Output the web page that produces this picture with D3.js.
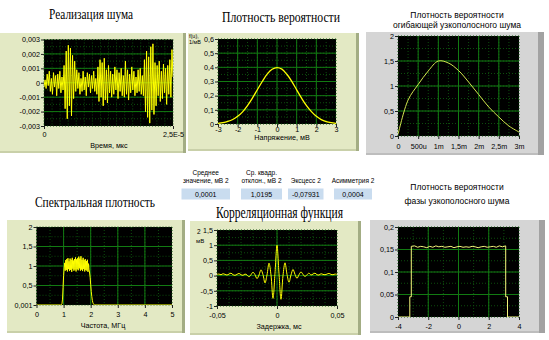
<!DOCTYPE html>
<html><head><meta charset="utf-8">
<script src="https://cdn.jsdelivr.net/npm/d3@7"></script>
<style>
body{margin:0;background:#fff;}
svg{display:block;}
text{font-family:"Liberation Sans",Arial,sans-serif;fill:#000;}
.serif{font-family:"Liberation Serif","Times New Roman",serif;}
</style></head><body>
<svg id="c" width="549" height="340"></svg>
<script>
// ---- Noise realisation (values in units of 1e-3) ----
const noiseMilli = [
 -0.3,0.2,-0.4,0.6,-0.2,0.8,-0.6,0.3,-0.8,0.7,-0.3,0.5,-0.9,0.6,-0.4,0.8,-0.7,0.4,-0.5,
 1.2,-1.8,2.2,-2.5,2.6,-1.6,2.4,-2.3,1.9,-1.1,1.5,
 -0.6,0.9,-0.4,0.7,-0.8,0.3,-0.6,0.8,-0.5,0.4,-0.9,0.7,-0.3,0.6,-0.7,0.5,-0.4,0.8,-0.6,0.3,-0.8,
 1.1,-1.3,1.6,-1.0,1.4,-1.6,1.7,-1.2,0.9,-1.4,1.2,-0.7,
 0.8,-1.0,0.6,-0.8,1.1,-0.5,0.9,-1.1,0.7,-0.6,1.0,-0.9,0.5,-1.0,1.5,-0.8,0.9,-1.2,0.6,-0.7,1.1,-0.5,0.8,-0.9,0.4,-0.7,0.9,-0.6,1.0,-0.8,0.5,-0.9,
 1.6,-2.0,2.2,-2.4,1.8,-2.8,2.5,-1.9,2.7,-2.2,1.4,-1.6,
 1.2,-0.9,1.5,-1.3,0.8,-1.1,1.3,-0.7,1.0,-1.5,1.2,-0.8,1.6,-1.0,2.3,0.4
];
const noiseDuration = 2.5e-5;
const noiseYTicks = [-0.003,-0.002,-0.001,0,0.001,0.002,0.003];
const noiseYLabels = ["-0,003","-0,002","-0,001","0","0,001","0,002","0,003"];
const noiseXTicks = [0, 2.5e-5];
const noiseXLabels = ["0","2,5E-5"];

// ---- Probability density of the noise ----
const pdfVolts = [-3,-2.75,-2.5,-2.25,-2,-1.75,-1.5,-1.25,-1,-0.75,-0.5,-0.25,0,0.25,0.5,0.75,1,1.25,1.5,1.75,2,2.25,2.5,2.75,3];
const pdfValues = [0.004,0.009,0.018,0.032,0.054,0.086,0.130,0.183,0.242,0.300,0.352,0.386,0.398,0.387,0.351,0.301,0.241,0.182,0.129,0.087,0.054,0.031,0.017,0.009,0.004];
const pdfYTicks = [0,0.1,0.2,0.3,0.4,0.5,0.6];
const pdfYLabels = ["0","0,1","0,2","0,3","0,4","0,5","0,6"];
const pdfXTicks = [-3,-2,-1,0,1,2,3];
const pdfXLabels = ["-3","-2","-1","0","1","2","3"];

// ---- Envelope density of narrowband noise ----
const envAmp = [0,0.00025,0.0005,0.00075,0.001,0.00125,0.0015,0.00175,0.002,0.00225,0.0025,0.00275,0.003];
const envValues = [0.03,0.72,1.03,1.30,1.50,1.46,1.31,1.08,0.83,0.58,0.38,0.20,0.08];
const envYTicks = [0,0.5,1,1.5,2];
const envYLabels = ["0","0,5","1","1,5","2"];
const envXTicks = [0,0.0005,0.001,0.0015,0.002,0.0025,0.003];
const envXLabels = ["0","500u","1m","1,5m","2m","2,5m","3m"];

// ---- Spectral density (samples every 0.02 MHz from 0.90 MHz) ----
const specStart = 0.90, specStep = 0.02;
const specValues = [
 0.00,0.01,0.03,0.15,0.45,0.75,0.95,1.08,0.88,1.15,0.90,1.18,0.86,1.20,0.92,1.12,0.87,1.19,
 0.90,1.16,0.85,1.21,0.93,1.14,0.88,1.18,0.91,1.22,0.86,1.17,0.92,1.20,0.89,1.24,0.94,1.19,
 0.88,1.25,0.91,1.16,0.87,1.21,0.92,1.15,0.86,1.18,0.90,1.13,0.88,1.16,0.85,1.06,0.90,0.82,
 0.70,0.52,0.35,0.22,0.12,0.06,0.03,0.01,0.00
];
const specYTicks = [0,0.5,1,1.5,2];
const specYLabels = ["0,001","0,5","1","1,5","2"];
const specXTicks = [0,1,2,3,4,5];
const specXLabels = ["0","1","2","3","4","5"];

// ---- Correlation function (lag step 1/600 ms from -0.05 ms) ----
const corrStart = -0.05, corrStep = 1/600;
const corrValues = [
 0.04,0.05,0.03,0.06,0.04,0.02,0.05,0.08,0.03,0.01,0.04,0.07,0.03,0.01,
 0.05,0.02,-0.04,0.03,0.11,0.03,-0.10,0.02,0.19,0.03,-0.24,0.02,0.41,0.02,-0.75,0.08,
 1.00,
 0.06,-0.78,0.00,0.42,0.04,-0.22,0.02,0.20,0.04,-0.09,0.03,0.12,0.04,-0.03,0.03,0.08,
 0.02,0.05,0.08,0.03,0.02,0.06,0.04,0.03,0.05,0.07,0.04,0.03,0.05,0.04
];
const corrYTicks = [-1,-0.5,0,0.5,1,1.5];
const corrYLabels = ["-1","-0,5","0","0,5","1","1,5"];
const corrXTicks = [-0.05,0,0.05];
const corrXLabels = ["-0,05","0","0,05"];

// ---- Phase density of narrowband noise ----
const phaseX = [-4,-3.22,-3.22,-3.12,-3.12,-2.9,-2.7,-2.5,-2.3,-2.1,-1.9,-1.7,-1.5,-1.3,-1.1,-0.9,-0.7,-0.5,-0.3,-0.1,0.1,0.3,0.5,0.7,0.9,1.1,1.3,1.5,1.7,1.9,2.1,2.3,2.5,2.7,2.9,3.12,3.12,3.24,3.24,4];
const phaseY = [0,0,0.045,0.045,0.157,0.158,0.155,0.157,0.156,0.154,0.157,0.155,0.158,0.156,0.157,0.155,0.156,0.157,0.154,0.156,0.157,0.155,0.156,0.155,0.157,0.156,0.154,0.156,0.157,0.155,0.156,0.157,0.155,0.158,0.156,0.158,0.045,0.045,0,0];
const phaseYTicks = [0,0.05,0.1,0.15,0.2];
const phaseYLabels = ["0","0,05","0,1","0,15","0,2"];
const phaseXTicks = [-4,-2,0,2,4];
const phaseXLabels = ["-4","-2","0","2","4"];

// ---- Statistics indicators ----
const statLabels = [["Среднее","значение, мВ 2"],["Ср. квадр.","отклон., мВ 2"],["","Эксцесс 2"],["","Асимметрия 2"]];
const statValues = ["0,0001","1,0195","-0,07931","0,0004"];

const svg = d3.select("#c");
const GREEN = {face:"#e3e9c4", edge:"#a3ad84", bottom:"#c9d0a9"};
const GRAY = {face:"#d5d5d5", edge:"#a2a2a2", bottom:"#bdbdbd"};
let clipId = 0;

function graph(o){
  const g = svg.append("g");
  const th = o.theme;
  g.append("rect").attr("x",o.panel[0]).attr("y",o.panel[1]).attr("width",o.panel[2]).attr("height",o.panel[3]).attr("fill",th.face);
  g.append("rect").attr("x",o.panel[0]).attr("y",o.panel[1]+o.panel[3]-2).attr("width",o.panel[2]).attr("height",2).attr("fill",th.bottom);
  g.append("rect").attr("x",o.panel[0]+o.panel[2]-o.edgeW).attr("y",o.panel[1]).attr("width",o.edgeW).attr("height",o.panel[3]).attr("fill",th.edge);

  const x = d3.scaleLinear().domain(o.xDomain).range([o.plot[0],o.plot[1]]);
  const y = d3.scaleLinear().domain(o.yDomain).range([o.plot[3],o.plot[2]]);
  const pw = o.plot[1]-o.plot[0], ph = o.plot[3]-o.plot[2];
  g.append("rect").attr("x",o.plot[0]).attr("y",o.plot[2]).attr("width",pw).attr("height",ph).attr("fill","#000");

  // minor dotted grid
  const minorX = d3.range(o.xDomain[0], o.xDomain[1]+o.xMinor/2, o.xMinor);
  const minorY = d3.range(o.yDomain[0], o.yDomain[1]+o.yMinor/2, o.yMinor);
  g.append("g").selectAll("line").data(minorX).join("line")
    .attr("x1",d=>x(d)).attr("x2",d=>x(d)).attr("y1",o.plot[2]).attr("y2",o.plot[3])
    .attr("stroke","#0d4d0d").attr("stroke-dasharray","1,2");
  g.append("g").selectAll("line").data(minorY).join("line")
    .attr("y1",d=>y(d)).attr("y2",d=>y(d)).attr("x1",o.plot[0]).attr("x2",o.plot[1])
    .attr("stroke","#0d4d0d").attr("stroke-dasharray","1,2");
  // major grid
  g.append("g").selectAll("line").data(o.xGrid).join("line")
    .attr("x1",d=>x(d)).attr("x2",d=>x(d)).attr("y1",o.plot[2]).attr("y2",o.plot[3])
    .attr("stroke","#127a12");
  g.append("g").selectAll("line").data(o.yGrid).join("line")
    .attr("y1",d=>y(d)).attr("y2",d=>y(d)).attr("x1",o.plot[0]).attr("x2",o.plot[1])
    .attr("stroke","#127a12");

  // axes
  const ax = g.append("g").attr("transform",`translate(0,${o.plot[3]})`)
    .call(d3.axisBottom(x).tickValues(o.xTicks).tickFormat((d,i)=>o.xLabels[i]).tickSize(3).tickPadding(o.xPad));
  const ay = g.append("g").attr("transform",`translate(${o.plot[0]},0)`)
    .call(d3.axisLeft(y).tickValues(o.yTicks).tickFormat((d,i)=>o.yLabels[i]).tickSize(3).tickPadding(1));
  [ax,ay].forEach(a=>{
    a.select(".domain").remove();
    a.selectAll("text").attr("font-size","7.2px").attr("font-family","'Liberation Sans',Arial,sans-serif").attr("fill","#000");
    a.selectAll("line").attr("stroke","#222");
  });

  // data line
  const id = "clip"+(clipId++);
  g.append("clipPath").attr("id",id).append("rect")
    .attr("x",o.plot[0]).attr("y",o.plot[2]-1).attr("width",pw).attr("height",ph+1);
  const line = d3.line().x(d=>x(d[0])).y(d=>y(d[1])).curve(o.curve||d3.curveLinear);
  g.append("path").datum(o.data).attr("clip-path",`url(#${id})`)
    .attr("d",line).attr("fill","none").attr("stroke",o.color).attr("stroke-width",o.lw||1)
    .attr("stroke-linejoin","round");

  if(o.xTitle){
    g.append("text").attr("x",o.xTitle[1]).attr("y",o.xTitle[2]).attr("text-anchor","middle")
      .attr("font-size","7.2px").text(o.xTitle[0]);
  }
  return {g,x,y};
}

// 1. Noise realisation
graph({
  theme:GREEN, edgeW:3, panel:[0,33,186,120], plot:[44,173,39.5,126], xPad:2.5,
  xDomain:[0,noiseDuration], yDomain:[-0.003,0.003],
  xMinor:noiseDuration/16, yMinor:0.0005,
  xGrid:[], yGrid:[-0.002,-0.001,0,0.001,0.002],
  xTicks:noiseXTicks, xLabels:noiseXLabels, yTicks:noiseYTicks, yLabels:noiseYLabels,
  data:noiseMilli.map((v,i)=>[i*noiseDuration/(noiseMilli.length-1), v/1000]),
  color:"#ffff00", xTitle:["Время, мкс",109,147.5]
});

// 2. Probability density
graph({
  theme:GREEN, edgeW:3, panel:[188,33,171,118], plot:[218,336,39,124], xPad:0,
  xDomain:[-3,3], yDomain:[0,0.6],
  xMinor:0.5, yMinor:0.05,
  xGrid:[-2,-1,0,1,2], yGrid:[0.1,0.2,0.3,0.4,0.5],
  xTicks:pdfXTicks, xLabels:pdfXLabels, yTicks:pdfYTicks, yLabels:pdfYLabels,
  data:pdfVolts.map((v,i)=>[v,pdfValues[i]]), curve:d3.curveCatmullRom,
  color:"#ffff00", lw:1.3, xTitle:["Напряжение, мВ",282,140]
});
svg.append("text").attr("x",189).attr("y",38).attr("font-size","5.5px").text("f(u),");
svg.append("text").attr("x",189).attr("y",44).attr("font-size","5.5px").text("1/мВ");

// 3. Envelope density
graph({
  theme:GRAY, edgeW:6, panel:[366,32,178,123], plot:[398,519,36,136], xPad:4.5,
  xDomain:[0,0.003], yDomain:[0,2],
  xMinor:0.00025, yMinor:0.25,
  xGrid:[0.0005,0.001,0.0015,0.002,0.0025], yGrid:[0.5,1,1.5],
  xTicks:envXTicks, xLabels:envXLabels, yTicks:envYTicks, yLabels:envYLabels,
  data:envAmp.map((v,i)=>[v,envValues[i]]), curve:d3.curveCatmullRom,
  color:"#d2e64e"
});

// 4. Spectral density
graph({
  theme:GREEN, edgeW:3, panel:[7,220,178,113], plot:[36.5,172,227,305], xPad:3.5,
  xDomain:[0,5], yDomain:[0,2],
  xMinor:0.5, yMinor:0.25,
  xGrid:[1,2,3,4], yGrid:[0.5,1,1.5],
  xTicks:specXTicks, xLabels:specXLabels, yTicks:specYTicks, yLabels:specYLabels,
  data:[[0,0]].concat(specValues.map((v,i)=>[specStart+i*specStep,v])).concat([[5,0]]),
  color:"#ffff00", xTitle:["Частота, МГц",103,327.5]
});

// 5. Correlation function
graph({
  theme:GREEN, edgeW:3, panel:[190,221,171,114], plot:[217,337,230,306], xPad:3.5,
  xDomain:[-0.05,0.05], yDomain:[-1,1.5],
  xMinor:0.01, yMinor:0.25,
  xGrid:[0], yGrid:[-0.5,0,0.5,1],
  xTicks:corrXTicks, xLabels:corrXLabels, yTicks:corrYTicks, yLabels:corrYLabels,
  data:corrValues.map((v,i)=>[corrStart+i*corrStep,v]), curve:d3.curveCatmullRom,
  color:"#ffff00", xTitle:["Задержка, мс",279,328.5]
});
svg.append("text").attr("x",197).attr("y",234).attr("font-size","6.5px").text("2");
svg.append("text").attr("x",196).attr("y",243).attr("font-size","6px").text("мВ");

// 6. Phase density
graph({
  theme:GRAY, edgeW:6, panel:[370,220,175,113], plot:[398,519,227,317], xPad:3.5,
  xDomain:[-4,4], yDomain:[0,0.2],
  xMinor:1, yMinor:0.025,
  xGrid:[-2,0,2], yGrid:[0.05,0.1,0.15],
  xTicks:phaseXTicks, xLabels:phaseXLabels, yTicks:phaseYTicks, yLabels:phaseYLabels,
  data:phaseX.map((v,i)=>[v,phaseY[i]]),
  color:"#f4f47a"
});

// Titles
function serifTitle(t,x0,x1,yb,fs){
  svg.append("text").attr("class","serif").attr("x",x0).attr("y",yb).attr("font-size",fs+"px")
    .attr("textLength",x1-x0).attr("lengthAdjust","spacingAndGlyphs").text(t);
}
serifTitle("Реализация шума",49,133,19,14);
serifTitle("Плотность вероятности",222,340,22,14);
serifTitle("Спектральная плотность",35,155,207,14);
serifTitle("Корреляционная функция",216,343,218,16);

function sansTitle(lines,cx,ys){
  lines.forEach((t,i)=>svg.append("text").attr("x",cx).attr("y",ys[i]).attr("text-anchor","middle")
    .attr("font-size","8.5px").text(t));
}
sansTitle(["Плотность вероятности","огибающей узкополосного шума"],457,[18,28]);
sansTitle(["Плотность вероятности","фазы узкополосного шума"],457,[190,204]);

// Statistic indicators
const boxes = [[181.5,230],[241,282],[288,323.5],[334,372]];
boxes.forEach((b,i)=>{
  const cx=(b[0]+b[1])/2;
  svg.append("rect").attr("x",b[0]).attr("y",188.5).attr("width",b[1]-b[0]).attr("height",11).attr("fill","#c9dcef");
  svg.append("text").attr("x",cx).attr("y",197).attr("text-anchor","middle").attr("font-size","7px").text(statValues[i]);
  statLabels[i].forEach((t,j)=>{
    if(t) svg.append("text").attr("x",cx).attr("y",j?183:175).attr("text-anchor","middle").attr("font-size","6.5px").text(t);
  });
});
</script>
</body></html>
